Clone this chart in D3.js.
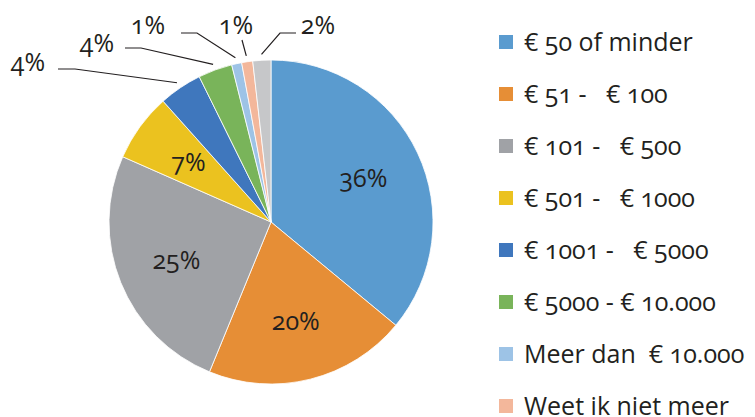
<!DOCTYPE html>
<html>
<head>
<meta charset="utf-8">
<script src="https://cdn.jsdelivr.net/npm/d3@7"></script>
<style>
    html, body { margin: 0; padding: 0; background: #fff; }
    svg { display: block; }
    text {
        font-family: "Open Sans", "Noto Sans", sans-serif;
        font-variant-numeric: oldstyle-nums;
        fill: #231f20;
        white-space: pre;
    }
</style>
</head>
<body>
<svg id="chart" width="755" height="417"></svg>
<script>
const categories = [
    '€ 50 of minder',
    '€ 51 -   € 100',
    '€ 101 -   € 500',
    '€ 501 -   € 1000',
    '€ 1001 -   € 5000',
    '€ 5000 - € 10.000',
    'Meer dan  € 10.000',
    'Weet ik niet meer',
    'Geen antwoord'
];
const shares = [36, 20.2, 25.4, 6.8, 4.3, 3.4, 1.0, 1.1, 1.8];
const pctLabels = ['36%', '20%', '25%', '7%', '4%', '4%', '1%', '1%', '2%'];
const colors = ['#5a9bcf', '#e68e36', '#a0a2a6', '#ebc21f', '#3f77bd', '#79b45a', '#9dc3e6', '#f3b79b', '#c6c7c9'];

// callout layout for the small slices: label anchor + elbow of the leader line
const callouts = {
    4: { tx: 28, ty: 71, line: [[58, 69], [75, 69]] },
    5: { tx: 97, ty: 52, line: [[125, 48], [141, 48]] },
    6: { tx: 148, ty: 34, line: [[181, 33], [197, 33]] },
    7: { tx: 236, ty: 34, line: [[242, 40]] },
    8: { tx: 318, ty: 34, line: [[296, 33], [280, 33]] }
};

const svg = d3.select('#chart');
const cx = 271, cy = 222, r = 162;

const pie = d3.pie().sort(null).value(d => d);
const arcs = pie(shares);
const arc = d3.arc().innerRadius(0).outerRadius(r);
const labelArc = d3.arc().innerRadius(r * 0.63).outerRadius(r * 0.63);
const edgeArc = d3.arc().innerRadius(r + 6).outerRadius(r + 6);

const g = svg.append('g').attr('transform', `translate(${cx},${cy})`);

g.selectAll('path.slice')
    .data(arcs)
    .join('path')
    .attr('class', 'slice')
    .attr('d', arc)
    .attr('fill', (d, i) => colors[i])
    .attr('stroke', '#fff')
    .attr('stroke-width', 0.8);

// labels inside the big slices
g.selectAll('text.inside')
    .data(arcs.filter((d, i) => !callouts[i]))
    .join('text')
    .attr('class', 'inside')
    .attr('transform', d => `translate(${labelArc.centroid(d)})`)
    .attr('text-anchor', 'middle')
    .attr('dy', '0.35em')
    .attr('font-size', 25)
    .text(d => pctLabels[d.index]);

// callout labels with leader lines
const outer = arcs.filter((d, i) => callouts[i]);
const line = d3.line();

svg.selectAll('path.leader')
    .data(outer)
    .join('path')
    .attr('class', 'leader')
    .attr('fill', 'none')
    .attr('stroke', '#231f20')
    .attr('stroke-width', 1.2)
    .attr('d', d => {
        const c = callouts[d.index];
        const [ex, ey] = edgeArc.centroid(d);
        return line([...c.line, [cx + ex, cy + ey]]);
    });

svg.selectAll('text.outside')
    .data(outer)
    .join('text')
    .attr('class', 'outside')
    .attr('x', d => callouts[d.index].tx)
    .attr('y', d => callouts[d.index].ty)
    .attr('text-anchor', 'middle')
    .attr('font-size', 25)
    .text(d => pctLabels[d.index]);

// legend
const legendY = d3.scalePoint()
    .domain(categories)
    .range([42, 42 + 52 * (categories.length - 1)]);

const legend = svg.selectAll('g.legend')
    .data(categories)
    .join('g')
    .attr('class', 'legend')
    .attr('transform', d => `translate(499,${legendY(d)})`);

legend.append('rect')
    .attr('x', 0)
    .attr('y', -7)
    .attr('width', 14)
    .attr('height', 14)
    .attr('fill', (d, i) => colors[i]);

legend.append('text')
    .attr('x', 25)
    .attr('dy', '0.35em')
    .attr('font-size', 25)
    .text(d => d);
</script>
</body>
</html>
